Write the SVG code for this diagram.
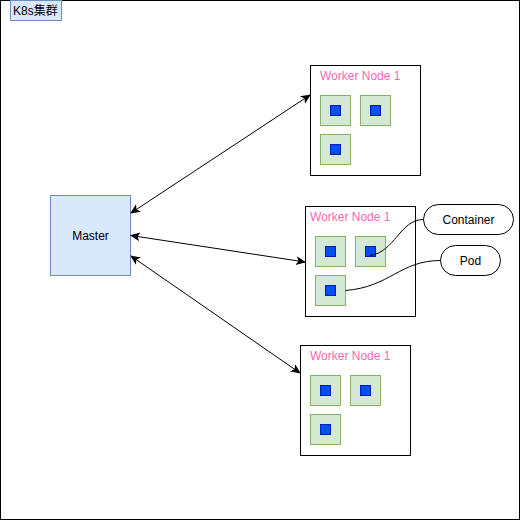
<svg xmlns="http://www.w3.org/2000/svg" width="521" height="521" viewBox="0 0 521 521">
<style>
text{font-family:"Liberation Sans",Arial,"Noto Sans CJK SC",sans-serif;font-size:12px;}
.frame{fill:#fff;stroke:#000;stroke-width:1;}
.blue{fill:#dae8fc;stroke:#6c8ebf;stroke-width:1;}
.worker{fill:#fff;stroke:#000;stroke-width:1;}
.pod{fill:#d5e8d4;stroke:#82b366;stroke-width:1;}
.ctr{fill:#0050ef;stroke:#001dbc;stroke-width:1;}
.wt{fill:#ff66b3;}
.pill{fill:#fff;stroke:#000;stroke-width:1;}
.conn{fill:none;stroke:#000;stroke-width:1;}
</style>
<defs>
<marker id="ah" viewBox="0 0 10 10" refX="9" refY="5" markerWidth="10" markerHeight="10" markerUnits="userSpaceOnUse" orient="auto-start-reverse">
<path d="M0,0.5 L10,5 L0,9.5 L2.5,5 Z" fill="#000"/>
</marker>
</defs>
<g id="cluster">
<rect class="frame" x="0.5" y="0.5" width="519" height="519"/>
<rect class="blue" x="10.5" y="0.5" width="51" height="20"/>
<text x="13" y="15">K8s集群</text>
</g>
<g id="master">
<rect class="blue" x="50.5" y="195.5" width="80" height="80"/>
<text x="90.5" y="239.5" text-anchor="middle">Master</text>
</g>
<g id="worker1">
<rect class="worker" x="310.5" y="65.5" width="110" height="110"/>
<text class="wt" x="320" y="80">Worker Node 1</text>
<rect class="pod" x="320.5" y="95.5" width="30" height="30"/>
<rect class="ctr" x="330.5" y="105.5" width="10" height="10"/>
<rect class="pod" x="360.5" y="95.5" width="30" height="30"/>
<rect class="ctr" x="370.5" y="105.5" width="10" height="10"/>
<rect class="pod" x="320.5" y="134.5" width="30" height="30"/>
<rect class="ctr" x="330.5" y="144.5" width="10" height="10"/>
</g>
<g id="worker2">
<rect class="worker" x="305.5" y="206.5" width="110" height="110"/>
<text class="wt" x="310" y="221">Worker Node 1</text>
<rect class="pod" x="315.5" y="236.5" width="30" height="30"/>
<rect class="ctr" x="325.5" y="246.5" width="10" height="10"/>
<rect class="pod" x="355.5" y="236.5" width="30" height="30"/>
<rect class="ctr" x="365.5" y="246.5" width="10" height="10"/>
<rect class="pod" x="315.5" y="275.5" width="30" height="30"/>
<rect class="ctr" x="325.5" y="285.5" width="10" height="10"/>
</g>
<g id="worker3">
<rect class="worker" x="300.5" y="345.5" width="110" height="110"/>
<text class="wt" x="310" y="360">Worker Node 1</text>
<rect class="pod" x="310.5" y="375.5" width="30" height="30"/>
<rect class="ctr" x="320.5" y="385.5" width="10" height="10"/>
<rect class="pod" x="350.5" y="375.5" width="30" height="30"/>
<rect class="ctr" x="360.5" y="385.5" width="10" height="10"/>
<rect class="pod" x="310.5" y="414.5" width="30" height="30"/>
<rect class="ctr" x="320.5" y="424.5" width="10" height="10"/>
</g>
<g id="container-label">
<rect class="pill" x="423.5" y="204.5" width="90" height="30" rx="15" ry="15"/>
<text x="468.5" y="223.5" text-anchor="middle">Container</text>
</g>
<g id="pod-label">
<rect class="pill" x="440.5" y="245.5" width="60" height="30" rx="15" ry="15"/>
<text x="470.5" y="264.5" text-anchor="middle">Pod</text>
</g>
<g id="connectors">
<line class="conn" x1="131" y1="213" x2="310" y2="95" marker-start="url(#ah)" marker-end="url(#ah)"/>
<line class="conn" x1="131" y1="235.5" x2="305" y2="262" marker-start="url(#ah)" marker-end="url(#ah)"/>
<line class="conn" x1="131" y1="256" x2="300" y2="373" marker-start="url(#ah)" marker-end="url(#ah)"/>
<path class="conn" d="M370 255.5 C395 252, 400 219.5, 423.5 219.5"/>
<path class="conn" d="M345.5 290.5 C390 287, 400 260.5, 440.5 260.5"/>
</g>
</svg>
